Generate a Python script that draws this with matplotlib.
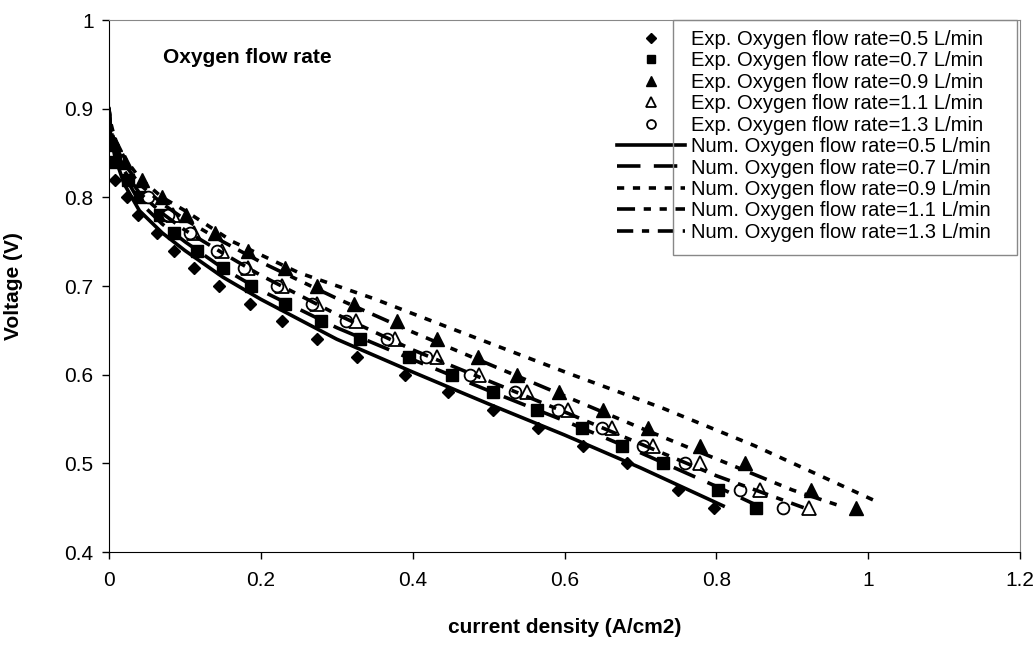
import matplotlib
matplotlib.use('Agg')
import matplotlib.pyplot as plt
from matplotlib.ticker import FuncFormatter

plt.rcParams['font.family'] = ['Liberation Sans', 'DejaVu Sans']

# experimental points (current density A/cm2, voltage V)
exp05_x = [0.001, 0.008, 0.024, 0.038, 0.063, 0.086, 0.112, 0.145, 0.186, 0.228, 0.274, 0.327, 0.39, 0.447, 0.506, 0.565, 0.625, 0.682, 0.75, 0.797]
exp05_y = [0.84, 0.82, 0.80, 0.78, 0.76, 0.74, 0.72, 0.70, 0.68, 0.66, 0.64, 0.62, 0.60, 0.58, 0.56, 0.54, 0.52, 0.50, 0.47, 0.45]
exp07_x = [0.001, 0.008, 0.025, 0.041, 0.067, 0.086, 0.116, 0.15, 0.187, 0.232, 0.279, 0.331, 0.395, 0.452, 0.506, 0.564, 0.623, 0.676, 0.73, 0.802, 0.852]
exp07_y = [0.86, 0.84, 0.82, 0.80, 0.78, 0.76, 0.74, 0.72, 0.70, 0.68, 0.66, 0.64, 0.62, 0.60, 0.58, 0.56, 0.54, 0.52, 0.50, 0.47, 0.45]
exp09_x = [0.008, 0.021, 0.043, 0.07, 0.101, 0.14, 0.183, 0.232, 0.274, 0.323, 0.379, 0.432, 0.486, 0.537, 0.593, 0.651, 0.71, 0.779, 0.838, 0.925, 0.984]
exp09_y = [0.86, 0.84, 0.82, 0.80, 0.78, 0.76, 0.74, 0.72, 0.70, 0.68, 0.66, 0.64, 0.62, 0.60, 0.58, 0.56, 0.54, 0.52, 0.50, 0.47, 0.45]
exp11_x = [0.084, 0.112, 0.149, 0.183, 0.228, 0.274, 0.325, 0.377, 0.432, 0.488, 0.551, 0.605, 0.663, 0.717, 0.779, 0.858, 0.922]
exp11_y = [0.78, 0.76, 0.74, 0.72, 0.70, 0.68, 0.66, 0.64, 0.62, 0.60, 0.58, 0.56, 0.54, 0.52, 0.50, 0.47, 0.45]
exp13_x = [0.052, 0.078, 0.107, 0.142, 0.178, 0.221, 0.267, 0.312, 0.366, 0.418, 0.476, 0.535, 0.592, 0.649, 0.704, 0.759, 0.831, 0.888]
exp13_y = [0.80, 0.78, 0.76, 0.74, 0.72, 0.70, 0.68, 0.66, 0.64, 0.62, 0.60, 0.58, 0.56, 0.54, 0.52, 0.50, 0.47, 0.45]

# numerical curves
num05_x = [0, 0.002, 0.008, 0.02, 0.04, 0.07, 0.1, 0.15, 0.2, 0.3, 0.4, 0.5, 0.6, 0.7, 0.809]
num05_y = [0.90, 0.87, 0.845, 0.815, 0.785, 0.76, 0.74, 0.71, 0.685, 0.64, 0.603, 0.567, 0.532, 0.495, 0.452]
num07_x = [0, 0.002, 0.008, 0.02, 0.04, 0.07, 0.1, 0.15, 0.2, 0.3, 0.4, 0.5, 0.6, 0.7, 0.8, 0.855]
num07_y = [0.90, 0.875, 0.85, 0.825, 0.795, 0.77, 0.75, 0.72, 0.695, 0.653, 0.617, 0.582, 0.548, 0.512, 0.474, 0.452]
num09_x = [0, 0.002, 0.008, 0.02, 0.04, 0.07, 0.1, 0.163, 0.25, 0.348, 0.445, 0.61, 0.73, 0.85, 1.016]
num09_y = [0.90, 0.885, 0.865, 0.845, 0.822, 0.80, 0.785, 0.75, 0.715, 0.686, 0.654, 0.60, 0.562, 0.52, 0.455]
num11_x = [0, 0.002, 0.008, 0.02, 0.04, 0.07, 0.1, 0.15, 0.2, 0.3, 0.4, 0.5, 0.6, 0.7, 0.8, 0.9, 0.963]
num11_y = [0.90, 0.88, 0.86, 0.838, 0.815, 0.793, 0.775, 0.75, 0.727, 0.686, 0.648, 0.612, 0.576, 0.54, 0.505, 0.47, 0.452]
num13_x = [0, 0.002, 0.008, 0.02, 0.04, 0.07, 0.1, 0.15, 0.2, 0.3, 0.4, 0.5, 0.6, 0.7, 0.8, 0.915]
num13_y = [0.90, 0.878, 0.855, 0.83, 0.805, 0.782, 0.763, 0.737, 0.712, 0.668, 0.628, 0.593, 0.558, 0.522, 0.486, 0.45]

fig = plt.figure(figsize=(10.36, 6.54), dpi=100)
ax = fig.add_axes([109/1036, 102/654, 911/1036, 532/654])

ms = dict(color='black', linestyle='none')
ax.plot(exp05_x, exp05_y, marker='D', markersize=6.5, label='Exp. Oxygen flow rate=0.5 L/min', **ms)
ax.plot(exp07_x, exp07_y, marker='s', markersize=8.5, label='Exp. Oxygen flow rate=0.7 L/min', **ms)
ax.plot(exp09_x, exp09_y, marker='^', markersize=9.5, label='Exp. Oxygen flow rate=0.9 L/min', **ms)
ax.plot(exp11_x, exp11_y, marker='^', markersize=9.5, markerfacecolor='white', markeredgewidth=1.3,
        label='Exp. Oxygen flow rate=1.1 L/min', **ms)
ax.plot(exp13_x, exp13_y, marker='o', markersize=8.5, markerfacecolor='white', markeredgewidth=1.3,
        label='Exp. Oxygen flow rate=1.3 L/min', **ms)

lw = 2.6
ax.plot(num05_x, num05_y, color='black', lw=lw, label='Num. Oxygen flow rate=0.5 L/min')
ax.plot(num07_x, num07_y, color='black', lw=lw, dashes=(6.5, 3.7), label='Num. Oxygen flow rate=0.7 L/min')
ax.plot(num09_x, num09_y, color='black', lw=lw, dashes=(2.0, 2.4), label='Num. Oxygen flow rate=0.9 L/min')
ax.plot(num11_x, num11_y, color='black', lw=lw, dashes=(5.0, 2.4, 2.0, 2.4, 2.0, 2.4), label='Num. Oxygen flow rate=1.1 L/min')
ax.plot(num13_x, num13_y, color='black', lw=lw, dashes=(4.5, 2.4, 2.0, 2.4), label='Num. Oxygen flow rate=1.3 L/min')

ax.set_xlim(0, 1.2)
ax.set_ylim(0.4, 1.0)
ax.set_xticks([0, 0.2, 0.4, 0.6, 0.8, 1.0, 1.2])
ax.set_yticks([0.4, 0.5, 0.6, 0.7, 0.8, 0.9, 1.0])
fmt = FuncFormatter(lambda v, p: '%g' % round(v, 2))
ax.xaxis.set_major_formatter(fmt)
ax.yaxis.set_major_formatter(fmt)
ax.tick_params(direction='out', length=5, width=1, labelsize=15, pad=6, color='black')
ax.tick_params(axis='x', pad=9)
for s in ['left', 'bottom']:
    ax.spines[s].set_color('black')
for s in ['top', 'right']:
    ax.spines[s].set_color('#888888')

ax.set_xlabel('current density (A/cm2)', fontsize=15, fontweight='bold', labelpad=20)
ax.set_ylabel('Voltage (V)', fontsize=15, fontweight='bold', labelpad=30)

ax.text(0.059, 0.929, 'Oxygen flow rate', transform=ax.transAxes, fontsize=15, fontweight='bold', va='center')

leg = ax.legend(loc='upper left', bbox_to_anchor=(617/1036, 1 - 30/654), bbox_transform=fig.transFigure,
                frameon=False, fontsize=14.5, handlelength=3.4, handletextpad=0.25, labelspacing=0.12,
                borderpad=0, borderaxespad=0, markerscale=0.75)

fig.patches.append(plt.Rectangle((673/1036, 1 - 255/654), 344/1036, 235/654, transform=fig.transFigure,
                                 fill=False, edgecolor='#888888', lw=1))

fig.savefig('out.png', dpi=100)
